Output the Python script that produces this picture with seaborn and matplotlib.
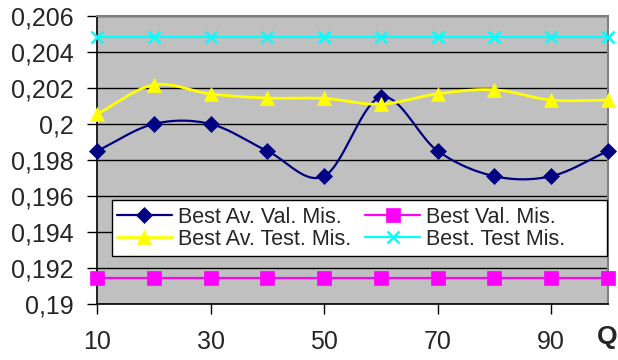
import numpy as np
import matplotlib
matplotlib.use("Agg")
import matplotlib.pyplot as plt
import seaborn as sns
import pandas as pd
from matplotlib.lines import Line2D
from matplotlib.patches import Rectangle
from matplotlib.ticker import FuncFormatter

# data
q = [10, 20, 30, 40, 50, 60, 70, 80, 90, 100]
best_av_val = [0.1985, 0.2000, 0.2000, 0.1985, 0.1971, 0.2015, 0.1985, 0.1971, 0.1971, 0.1985]
best_av_test = [0.20055, 0.20217, 0.20167, 0.20144, 0.20142, 0.2011, 0.20168, 0.2019, 0.20133, 0.20133]
best_val = [0.19145] * 10
best_test = [0.20483] * 10
series_names = ["Best Av. Val. Mis.", "Best Av. Test. Mis.", "Best Val. Mis.", "Best. Test Mis."]
y_ticks = [0.19, 0.192, 0.194, 0.196, 0.198, 0.2, 0.202, 0.204, 0.206]
x_ticks = [10, 30, 50, 70, 90]

sns.set_theme(style="white")
plt.rcParams["font.family"] = ["Liberation Sans", "DejaVu Sans"]

W, H = 618, 360
fig = plt.figure(figsize=(W / 100, H / 100), dpi=100)
AX_L, AX_R, AX_T, AX_B = 97, 608, 16, 304
ax = fig.add_axes([AX_L / W, 1 - AX_B / H, (AX_R - AX_L) / W, (AX_B - AX_T) / H])
ax.set_facecolor("#C0C0C0")


def smooth(xs, ys, n=20):
    xs = np.asarray(xs, float)
    ys = np.asarray(ys, float)
    px = np.concatenate([[2 * xs[0] - xs[1]], xs, [2 * xs[-1] - xs[-2]]])
    py = np.concatenate([[2 * ys[0] - ys[1]], ys, [2 * ys[-1] - ys[-2]]])
    ox, oy = [], []
    t = np.linspace(0, 1, n, endpoint=False)
    for i in range(1, len(px) - 2):
        for arr, out in ((px, ox), (py, oy)):
            p0, p1, p2, p3 = arr[i - 1], arr[i], arr[i + 1], arr[i + 2]
            out.extend(0.5 * ((2 * p1) + (-p0 + p2) * t + (2 * p0 - 5 * p1 + 4 * p2 - p3) * t ** 2
                              + (-p0 + 3 * p1 - 3 * p2 + p3) * t ** 3))
    ox.append(xs[-1]); oy.append(ys[-1])
    return np.array(ox), np.array(oy)


styles = [
    (best_av_val, "#000080", "D", 8, 1.6),
    (best_av_test, "#FFFF00", "^", 10, 2.0),
    (best_val, "#FF00FF", "s", 10, 1.6),
    (best_test, "#00FFFF", "x", 9, 1.6),
]

handles = []
for (vals, color, marker, ms, lw), name in zip(styles, series_names):
    sx, sy = smooth(q, vals)
    ax.plot(sx, sy, color=color, lw=lw, zorder=3, clip_on=False)
    mew = 1.8 if marker == "x" else 0.5
    df = pd.DataFrame({"Q": q, "v": vals})
    sns.lineplot(data=df, x="Q", y="v", ax=ax, color=color, marker=marker, markersize=ms,
                 linestyle="", markeredgecolor=color, markeredgewidth=mew,
                 zorder=4, clip_on=False)
    handles.append(Line2D([], [], color=color, lw=lw, marker=marker, markersize=ms,
                          markeredgecolor=color, markeredgewidth=mew, label=name))

ax.set_xlim(10, 100)
ax.set_ylim(0.19, 0.206)
ax.set_yticks(y_ticks)
ax.set_xticks(x_ticks)
ax.yaxis.set_major_formatter(FuncFormatter(lambda v, p: ("%g" % round(v, 3)).replace(".", ",")))
ax.grid(axis="y", color="black", lw=1.0)
ax.grid(axis="x", visible=False)
ax.set_axisbelow(True)
ax.tick_params(axis="y", which="major", direction="out", length=7, width=1, color="black",
               labelsize=18, pad=10, left=True)
ax.tick_params(axis="x", which="major", direction="out", length=7, width=1, color="black",
               labelsize=18, pad=12, bottom=True)
for s in ["left", "bottom"]:
    ax.spines[s].set_color("black")
    ax.spines[s].set_linewidth(1.2)
for s in ["top", "right"]:
    ax.spines[s].set_color("#808080")
    ax.spines[s].set_linewidth(1.5)
ax.set_xlabel("")
ax.set_ylabel("")


def ax_x(px):
    return (px - AX_L) / (AX_R - AX_L)


def ax_y(py):
    return (AX_B - py) / (AX_B - AX_T)


# legend frame
ax.add_patch(Rectangle((ax_x(112), ax_y(256)), ax_x(607) - ax_x(112), ax_y(200) - ax_y(256),
                       transform=ax.transAxes, facecolor="white", edgecolor="black", lw=1.0,
                       zorder=5, clip_on=False))
leg = ax.legend(handles=handles, ncol=2, loc="upper left",
                bbox_to_anchor=(ax_x(117), ax_y(207)),
                frameon=False, fontsize=15.5, handlelength=2.55,
                borderaxespad=0, borderpad=0, labelspacing=0.03, columnspacing=0.65,
                handletextpad=0.28)
leg.set_zorder(6)

fig.text(607 / W, 1 - 337 / H, "Q", fontsize=19, fontweight="bold", ha="center", va="center")

fig.savefig("out.png", dpi=100)
